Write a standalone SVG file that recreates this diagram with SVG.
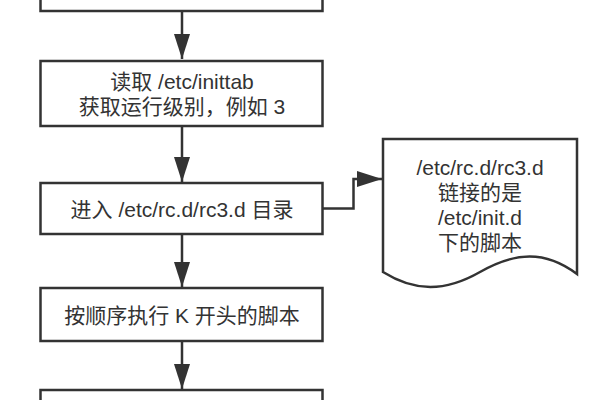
<svg xmlns="http://www.w3.org/2000/svg" width="600" height="400" viewBox="0 0 600 400">
<style>
.box{fill:#fff;stroke:#333;stroke-width:2.5}
.t{font-family:"Liberation Sans","Noto Sans CJK SC",sans-serif;font-size:21px;fill:#333;text-anchor:middle}
.ln{fill:none;stroke:#333;stroke-width:2.5}
</style>
<defs>
<marker id="ah" viewBox="0 0 25 16" refX="25" refY="8" markerWidth="25" markerHeight="16" markerUnits="userSpaceOnUse" orient="auto">
<path d="M0,0 L25,8 L0,16 Z" fill="#333"/>
</marker>
</defs>
<rect width="600" height="400" fill="#fff"/>
<g id="connectors">
<line class="ln" x1="182" y1="11" x2="182" y2="59" marker-end="url(#ah)"/>
<line class="ln" x1="182" y1="126" x2="182" y2="182" marker-end="url(#ah)"/>
<line class="ln" x1="182" y1="234" x2="182" y2="287" marker-end="url(#ah)"/>
<line class="ln" x1="182" y1="341" x2="182" y2="389" marker-end="url(#ah)"/>
<path class="ln" d="M323,208.5 H353.5 V179 H382" marker-end="url(#ah)"/>
</g>
<g id="n0"><rect class="box" x="40.5" y="-50" width="282" height="61"/></g>
<g id="n1"><rect class="box" x="40.5" y="61" width="282" height="65"/>
<text class="t" x="182" y="89">读取 /etc/inittab</text>
<text class="t" x="182" y="114">获取运行级别，例如 3</text></g>
<g id="n2"><rect class="box" x="40.5" y="183" width="282" height="51"/>
<text class="t" x="182" y="217">进入 /etc/rc.d/rc3.d 目录</text></g>
<g id="n3"><rect class="box" x="40.5" y="288" width="282" height="53"/>
<text class="t" x="182" y="323">按顺序执行 K 开头的脚本</text></g>
<g id="n4"><rect class="box" x="40.5" y="390" width="282" height="40"/></g>
<g id="doc"><path class="box" d="M383,139 H577 V274 C545,250 515,252 480,272 C445,292 415,292 383,272 Z"/>
<text class="t" x="480" y="175">/etc/rc.d/rc3.d</text>
<text class="t" x="480" y="200">链接的是</text>
<text class="t" x="480" y="225">/etc/init.d</text>
<text class="t" x="480" y="250">下的脚本</text></g>
</svg>
